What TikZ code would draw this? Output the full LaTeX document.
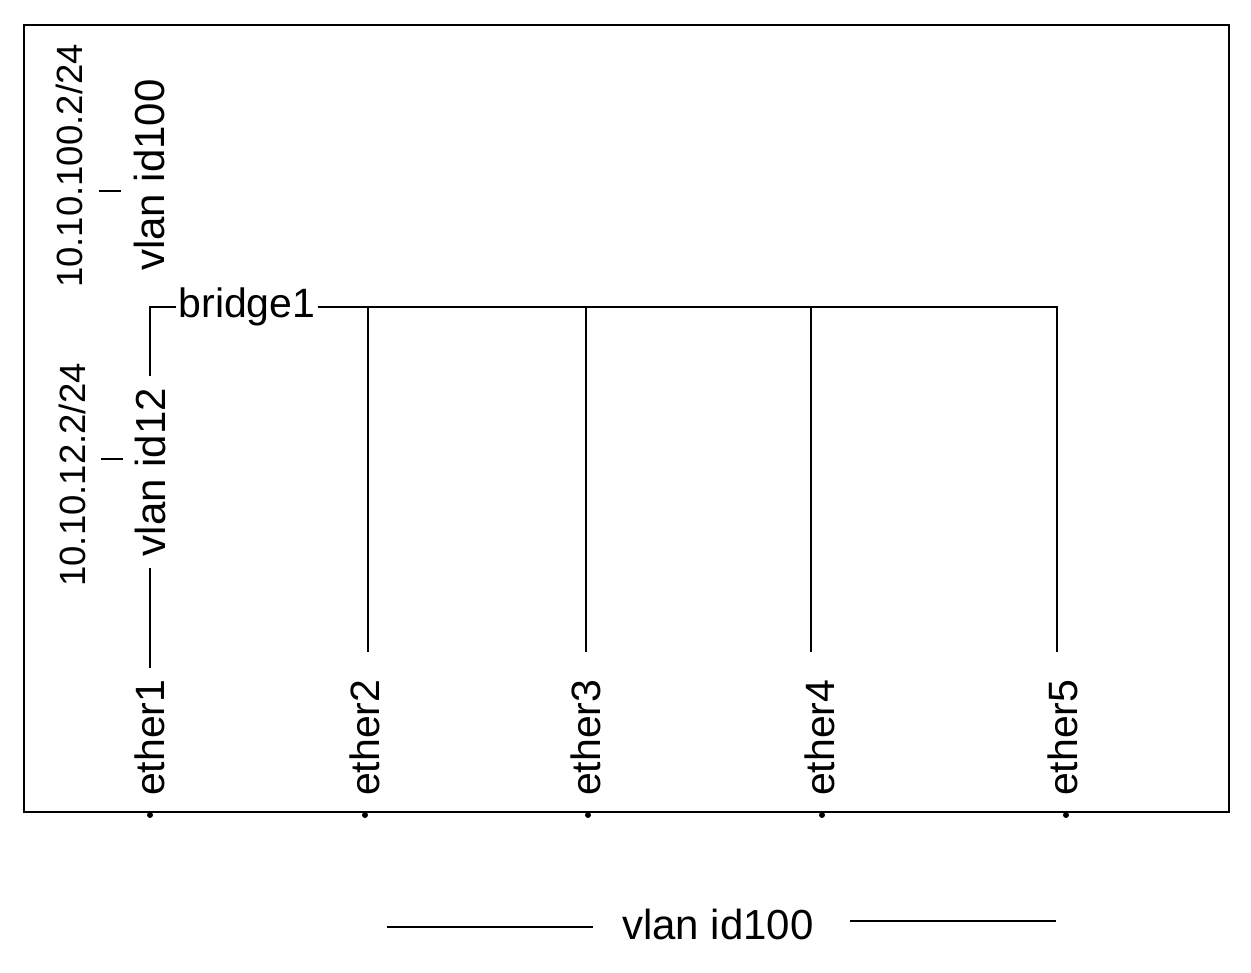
\documentclass[tikz,border=0pt]{standalone}
\usepackage{fontspec}
\setmainfont{Liberation Sans}
\begin{document}
\begin{tikzpicture}[x=1pt,y=-1pt,
  ln/.style={line width=1.1pt,black},
  lbl/.style={inner sep=2pt,font=\fontsize{41}{48}\selectfont},
  vlbl/.style={rotate=90,inner sep=12pt,font=\fontsize{42}{48}\selectfont},
  iplbl/.style={rotate=90,inner sep=0pt,font=\fontsize{36.5}{42}\selectfont},
  eth/.style={rotate=90,anchor=west,inner sep=0pt,font=\fontsize{41}{48}\selectfont},
  dotmark/.style={circle,fill=black,inner sep=0pt,minimum size=6pt}]
\useasboundingbox (0,0) rectangle (1251,973);
\draw[ln] (24,25) rectangle (1229,812);

% top vlan
\node[iplbl] (ip100) at (69,166) {10.10.100.2/24};
\node[vlbl] (v100) at (149,175) {vlan id100};
\coordinate (t1a) at (99,191); \coordinate (t1b) at (121,191);
\draw[ln] (t1a) -- (t1b);

% bridge
\node[lbl] (bridge) at (247,307) {bridge1};
\coordinate (corner) at (150,307);
\coordinate (j2) at (368,307);
\coordinate (j3) at (586,307);
\coordinate (j4) at (811,307);
\coordinate (j5) at (1057,307);

% vlan12
\node[iplbl] (ip12) at (72,475) {10.10.12.2/24};
\node[vlbl] (v12) at (150,472) {vlan id12};
\coordinate (t2a) at (101,459); \coordinate (t2b) at (123,459);
\draw[ln] (t2a) -- (t2b);

% ether labels
\node[eth] (e1) at (150,796) {ether1};
\node[eth] (e2) at (365,796) {ether2};
\node[eth] (e3) at (586,796) {ether3};
\node[eth] (e4) at (820,796) {ether4};
\node[eth] (e5) at (1063,796) {ether5};

\coordinate (k1) at (150,668);
\coordinate (k2) at (368,652);
\coordinate (k3) at (586,652);
\coordinate (k4) at (811,652);
\coordinate (k5) at (1057,652);

\draw[ln] (bridge.west) -- (corner) -- (v12);
\draw[ln] (v12) -- (k1);
\draw[ln] (bridge.east) -- (j5) -- (k5);
\draw[ln] (j2) -- (k2);
\draw[ln] (j3) -- (k3);
\draw[ln] (j4) -- (k4);

% dots
\node[dotmark] (d1) at (150,815) {};
\node[dotmark] (d2) at (365,815) {};
\node[dotmark] (d3) at (588,815) {};
\node[dotmark] (d4) at (822,815) {};
\node[dotmark] (d5) at (1066,815) {};

% bottom legend
\node[lbl,font=\fontsize{42}{48}\selectfont] (vbot) at (718,924) {vlan id100};
\coordinate (b1) at (387,927); \coordinate (b2) at (593,927);
\coordinate (b3) at (850,921); \coordinate (b4) at (1056,921);
\draw[ln] (b1) -- (b2);
\draw[ln] (b3) -- (b4);
\end{tikzpicture}
\end{document}
